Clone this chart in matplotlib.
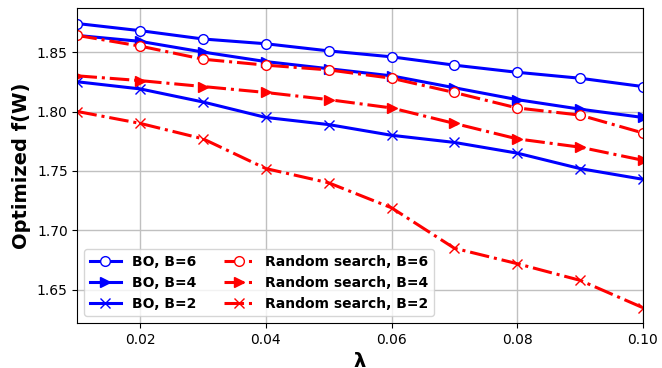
import matplotlib
matplotlib.use("Agg")
import matplotlib.pyplot as plt

lam = [0.01, 0.02, 0.03, 0.04, 0.05, 0.06, 0.07, 0.08, 0.09, 0.10]
bo_b6 = [1.874, 1.868, 1.861, 1.857, 1.851, 1.846, 1.839, 1.833, 1.828, 1.821]
bo_b4 = [1.864, 1.859, 1.850, 1.842, 1.836, 1.830, 1.820, 1.810, 1.802, 1.795]
bo_b2 = [1.825, 1.819, 1.808, 1.795, 1.789, 1.780, 1.774, 1.765, 1.752, 1.743]
rs_b6 = [1.864, 1.855, 1.844, 1.839, 1.835, 1.828, 1.816, 1.803, 1.797, 1.782]
rs_b4 = [1.830, 1.826, 1.821, 1.816, 1.810, 1.803, 1.790, 1.777, 1.770, 1.759]
rs_b2 = [1.800, 1.790, 1.777, 1.752, 1.740, 1.719, 1.685, 1.672, 1.658, 1.635]

fig, ax = plt.subplots(figsize=(6.62, 3.68), dpi=100)
lw = 2.2
ms = 7
ax.plot(lam, bo_b6, '-', color='blue', lw=lw, marker='o', ms=ms, mfc='white', mec='blue', label='BO, B=6')
ax.plot(lam, bo_b4, '-', color='blue', lw=lw, marker='>', ms=ms, label='BO, B=4')
ax.plot(lam, bo_b2, '-', color='blue', lw=lw, marker='x', ms=ms, label='BO, B=2')
ax.plot(lam, rs_b6, '-.', color='red', lw=lw, marker='o', ms=ms, mfc='white', mec='red', label='Random search, B=6')
ax.plot(lam, rs_b4, '-.', color='red', lw=lw, marker='>', ms=ms, label='Random search, B=4')
ax.plot(lam, rs_b2, '-.', color='red', lw=lw, marker='x', ms=ms, label='Random search, B=2')

ax.set_xlim(0.01, 0.10)
ax.set_ylim(1.622, 1.887)
ax.set_xticks([0.02, 0.04, 0.06, 0.08, 0.10])
ax.set_yticks([1.65, 1.70, 1.75, 1.80, 1.85])
ax.grid(True, color='#c0c0c0', lw=1)
ax.set_xlabel('λ', fontsize=14, fontweight='bold')
ax.set_ylabel('Optimized f(W)', fontsize=14, fontweight='bold')
ax.tick_params(labelsize=10)
ax.legend(ncol=2, loc='lower left', prop={'weight': 'bold', 'size': 10}, handlelength=2.2, columnspacing=2.0)
fig.subplots_adjust(left=0.117, right=0.971, top=0.978, bottom=0.122)
fig.savefig('out.png', dpi=100)
